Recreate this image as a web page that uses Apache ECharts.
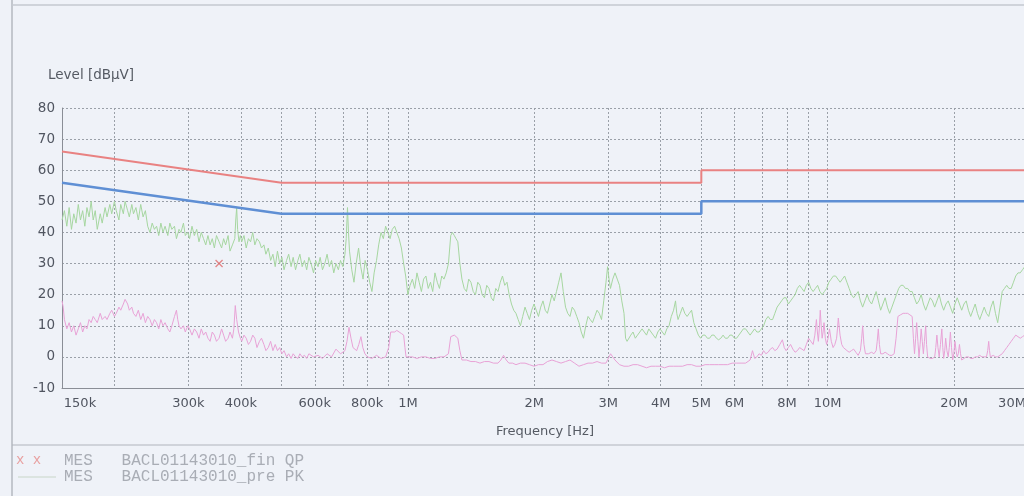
<!DOCTYPE html>
<html>
<head>
<meta charset="utf-8">
<script src="https://cdn.jsdelivr.net/npm/echarts@6/dist/echarts.min.js"></script>
<style>
html,body{margin:0;padding:0;background:#eff2f8;}
#chart{width:1024px;height:496px;}
</style>
</head>
<body>
<div id="chart"></div>
<script>
// Frequencies in kHz
const gridFreqs = [200,300,400,500,600,700,800,900,1000,2000,3000,4000,5000,6000,7000,8000,9000,10000,20000];
const labelFreqs = [150,300,400,600,800,1000,2000,3000,4000,5000,6000,8000,10000,20000,30000];

// Limit lines [kHz, dBµV]
const limitQP = [[150,66],[500,56],[5000,56],[5000,60],[30000,60]];
const limitAV = [[150,56],[500,46],[5000,46],[5000,50],[30000,50]];

// Final QP measurement
const finQP = [[355,30]];

// Pre-scan peak trace (green)
const prePK = [
[150,44],[152,47],[154,42],[156,48],[158,41],[160,46],[162,43],[164,49],[166,44],[168,47],[170,42],[172,48],[174,45],[176,50],[178,44],[180,47],[182,41],[185,46],[187,43],[190,48],[192,45],[195,49],[197,46],[200,50],[202,47],[205,44],[207,49],[210,46],[212,50],[215,47],[217,45],[220,49],[222,46],[225,48],[228,44],[231,49],[234,45],[237,47],[240,42],
[243,40],[246,43],[249,41],[252,42],[255,39],[258,43],[261,40],[264,42],[268,39],[271,43],[274,41],[278,42],[281,38],[285,41],[288,40],[292,43],[295,39],[299,40],
[302,38],[306,42],[310,39],[314,41],[318,37],[322,40],[326,38],[330,36],[334,39],[338,36],[342,38],[346,35],[350,39],[355,37],[360,35],[364,38],[368,36],[373,39],[377,34],[382,36],[387,38],[389,44],[391,48],[393,41],[396,37],[399,39],
[402,37],[407,39],[412,35],[417,38],[422,37],[427,40],[432,36],[437,38],[443,37],[448,35],[454,36],[459,33],[465,35],[471,31],[477,33],[483,29],[489,34],[495,30],[501,32],[507,28],[514,31],[520,33],[527,29],[533,32],[540,28],[547,31],[553,33],[560,29],[567,31],[574,28],[581,32],[588,30],
[596,27],[603,31],[611,29],[618,32],[626,28],[634,30],[642,33],[650,29],[658,31],[666,27],[674,30],[683,28],[691,31],[700,29],[708,33],[713,38],[718,48],[722,40],[726,34],[735,28],[744,24],[753,30],[763,35],[772,29],[782,25],[791,31],[801,28],[811,24],[821,21],[831,27],[842,31],[852,36],[863,40],[874,38],[885,42],[896,40],[907,38],[918,41],[930,42],[941,40],[953,38],[965,35],[977,30],[988,26],[1000,20],
[1012,23],[1025,25],[1038,22],[1051,27],[1064,24],[1077,21],[1090,25],[1104,26],[1118,22],[1132,24],[1146,21],[1160,27],[1175,24],[1189,22],[1204,26],[1219,25],[1234,27],[1249,30],[1265,39],[1277,40],[1290,39],[1302,38],[1315,37],[1330,30],[1345,25],
[1362,22],[1379,21],[1396,25],[1413,24],[1431,21],[1449,20],[1467,24],[1485,23],[1503,20],[1522,19],[1541,23],[1560,22],[1580,19],[1599,18],[1619,22],[1639,21],[1660,24],[1680,26],[1701,23],[1722,24],[1743,20],[1765,17],[1787,15],[1809,14],[1831,12],[1854,10],[1877,13],[1901,16],[1924,14],[1948,12],[1972,15],[1997,17],[2022,15],[2047,13],[2072,16],[2098,18],[2124,15],[2150,14],[2177,17],[2204,20],
[2231,18],[2259,21],[2287,24],[2316,27],[2345,21],[2374,16],[2403,14],[2433,13],[2463,16],[2494,15],[2525,13],[2556,11],[2588,8],[2620,6],[2653,10],[2686,13],[2719,12],[2753,11],[2787,13],[2822,15],[2857,14],[2892,12],[2928,18],[2964,24],[2990,29],[3014,25],[3038,22],[3076,25],[3114,27],[3153,25],[3192,23],[3232,18],[3272,14],[3300,6],[3327,5],[3354,5],[3396,7],[3438,8],[3481,6],[3524,7],[3568,8],[3612,9],[3657,8],[3702,7],[3748,9],[3795,8],[3842,7],[3890,6],[3938,8],[3987,9],[4037,8],[4087,7],[4138,9],[4189,10],[4241,13],[4294,15],[4340,18],[4370,14],[4401,12],[4456,14],[4511,16],[4567,14],[4624,13],[4682,14],[4740,15],[4799,11],[4858,9],[4919,7],[4980,6],
[5042,7],[5104,7],[5168,6],[5232,6],[5297,7],[5363,7],[5430,6],[5497,5.5],[5565,6],[5634,7],[5704,6],[5775,6],[5847,7],[5919,7],[5993,6],[6067,6],[6143,7],[6219,8],[6296,9],[6374,9],[6453,8],[6534,7],[6615,8],[6697,9],[6780,8],[6864,8],[6950,9],[7036,10],[7124,12],[7212,13],[7301,12],[7392,12],[7484,14],[7577,16],[7671,17],[7766,18],
[7863,19],[7960,19],[8059,17],[8159,18],[8260,19],[8363,20],[8467,22],[8572,23],[8679,22],[8787,21],[8896,23],[9006,24],[9118,22],[9232,21],[9347,22],[9462,23],[9580,21],[9699,20],[9820,21],[9941,22],[10065,24],[10190,25],[10317,26],[10445,26],[10575,25],[10706,24],[10839,25],[10973,26],[11110,24],[11248,22],[11388,20],[11529,19],[11672,20],[11817,21],[11964,18],[12113,16],[12264,18],[12416,20],[12570,18],[12726,17],[12884,19],[13044,21],[13206,18],[13370,15],[13536,17],[13705,19],[13875,16],[14047,14],[14222,16],[14399,18],[14578,20],[14758,22],[14941,23],[15127,23],[15315,22],[15506,22],[15699,21],[15893,21],[16091,19],[16291,17],[16494,18],[16698,20],[16906,17],[17115,15],[17328,17],[17543,19],[17761,18],[17982,16],[18205,18],[18432,20],[18661,17],[18892,15],[19127,17],[19365,18],[19605,16],[19849,14],[20096,17],[20345,19],[20598,17],[20854,15],[21113,17],[21375,18],[21641,15],[21909,13],[22181,15],[22457,17],[22736,14],[23019,12],[23305,14],[23594,16],[23887,14],[24184,13],[24485,16],[24789,18],[25097,14],[25409,11],[25724,16],[26044,21],[26367,22],[26695,23],[27027,22],[27362,22],[27702,24],[28046,26],[28395,27],[28747,27],[29105,28],[29466,29],[29731,30],[30000,31]
];

// Pre-scan average trace (pink)
const preAV = [
[150,18],[151,16],[152,12],[154,9],[156,11],[158,8],[160,10],[162,7],[164,9],[166,11],[168,8],[170,10],[172,9],[174,12],[176,11],[178,13],[180,12],[182,11],[185,14],[187,12],[190,13],[192,12],[195,14],[197,15],[200,13],[202,14],[205,16],[207,15],[210,17],[212,18.5],[215,17],[217,15],[220,16],[222,14],[225,13],[228,15],[231,12],[234,14],[237,11],[240,13],[243,12],[246,10],[249,12],[252,11],[255,9],[258,12],[261,10],[264,11],[268,9],[271,8],[274,10],[278,13],[281,15],[283,12],[285,10],[288,9],[292,10],[295,8],[299,10],
[302,9],[306,7],[310,9],[314,8],[318,6],[322,9],[326,7],[330,8],[334,6],[338,5],[342,8],[346,7],[350,5],[355,6],[360,9],[364,7],[368,5],[373,6],[377,8],[382,6],[385,9],[388,16.5],[391,12],[395,8],[399,6],[402,5],[407,7],[412,6],[417,4],[422,5],[427,7],[432,6],[437,3],[443,5],[448,6],[454,4],[459,2],[465,3],[471,5],[477,2],[483,4],[489,2],[495,3],[501,1],[507,2],[514,0],[520,1],[527,-0.5],[533,1],[540,0],[547,-0.5],[553,1],[560,0],[567,0.5],[574,-0.5],[581,1],
[596,0],[611,0.5],[626,-0.5],[642,1],[658,0],[674,2.5],[691,1],[708,2],[716,5],[724,9.5],[732,6],[740,3],[755,2],[764,4],[773,6.5],[781,3],[790,1],[801,0],[821,-0.5],[842,0.5],[863,-0.5],[885,0],[900,3],[910,8],[920,8.5],[930,8],[941,8.5],[953,8],[965,7.5],[977,7],[984,3],[990,0],[1000,-0.5],
[1025,0],[1051,-0.5],[1077,0],[1104,0],[1132,-0.5],[1160,-0.5],[1189,0],[1219,0],[1249,1],[1265,6.5],[1277,7],[1290,7],[1302,6.5],[1315,6],[1330,2],[1345,-1],[1379,-1],[1413,-1.5],[1449,-1.5],[1485,-2],[1522,-1.5],[1560,-1.5],[1599,-2],[1639,-2],[1665,-1],[1690,0.5],[1715,-1],[1740,-2],[1775,-2],[1809,-2.5],[1854,-2],[1901,-2],[1948,-2.5],[1997,-3],[2047,-2.5],[2098,-2.5],[2150,-1.5],[2204,-1],[2259,-1.5],[2316,-2],[2374,-1.5],[2433,-1],[2494,-2],[2556,-3],[2620,-2.5],[2686,-2],[2753,-2],[2822,-1.5],[2892,-2],[2964,-2],[3040,1],[3076,0],[3114,-1],[3192,-2.5],[3272,-3],[3354,-3],[3438,-2.5],[3524,-2.5],[3612,-3],[3702,-3.5],[3795,-3],[3890,-3],[3987,-3],[4087,-3.5],[4189,-3],[4294,-3],[4401,-3],[4511,-3],[4624,-2.5],[4740,-2.5],[4858,-3],[4980,-3],
[5104,-2.5],[5232,-2.5],[5363,-2.5],[5497,-2.5],[5634,-2.5],[5775,-2.5],[5919,-2],[6067,-2],[6219,-2],[6374,-2],[6534,-1],[6620,2],[6700,-0.5],[6780,0],[6864,1],[6950,0.5],[7036,2],[7124,1],[7212,1.5],[7301,2.5],[7392,3],[7484,2],[7577,2.5],[7690,4],[7800,5.5],[7880,3],[7960,2],[8059,3],[8159,4],[8260,2.5],[8363,1.5],[8467,2],[8572,3],[8679,2.5],[8787,2],[8896,4],[9006,6],[9118,5],[9232,4],[9320,7],[9400,12],[9450,8],[9500,5],[9550,9],[9600,15],[9650,10],[9700,6],[9750,8],[9800,11],[9870,6],[9941,4],[10020,6],[10100,9],[10200,5],[10300,3],[10400,4],[10500,6],[10550,9],[10600,12.5],[10700,7],[10800,4],[10900,3],[11000,2.5],[11120,2],[11248,1.5],[11388,2],[11529,2.5],[11672,1.5],[11817,0.5],[11964,2],[12050,6],[12113,10],[12200,4],[12300,1],[12500,1],[12726,1.5],[12884,1],[13044,2],[13120,5],[13200,9],[13280,4],[13370,1],[13536,1],[13705,1.5],[13875,1],[14047,0.5],[14222,0.5],[14399,1],[14550,6],[14700,13],[14900,13.5],[15127,14],[15315,14],[15506,14],[15699,13.5],[15893,13],[16000,6],[16100,1],[16200,6],[16291,11],[16400,5],[16500,0],[16600,4],[16698,9],[16800,5],[16900,1],[17000,5],[17115,10],[17200,4],[17300,0],[17420,-0.5],[17543,-0.5],[17761,-0.5],[17982,0],[18090,3],[18200,7],[18310,3],[18432,0],[18560,4],[18700,9],[18800,3],[18892,-0.5],[19000,2],[19100,6],[19230,2],[19365,0],[19480,3],[19600,8],[19720,3],[19849,-1],[19970,1],[20100,5],[20220,2],[20345,0],[20470,1],[20600,4],[20720,1],[20854,-1],[21113,-0.5],[21375,0],[21641,0],[21909,-0.5],[22181,-0.5],[22457,0],[22736,0],[23019,0.5],[23305,0],[23594,0],[23887,0],[24050,2],[24184,5],[24290,2],[24400,0],[24600,0],[24789,0.5],[25097,0],[25409,0],[25724,0.5],[26044,1],[26367,2],[26695,3],[27027,4],[27362,5],[27702,6],[28046,7],[28395,6.5],[28747,6],[29105,6.5],[29466,7],[29731,6.5],[30000,6]
];

const yMin = -10, yMax = 80, yStep = 10;

function fmtFreq(v){
  v = Math.round(v);
  return v >= 1000 ? (v/1000) + 'M' : v + 'k';
}

const chart = echarts.init(document.getElementById('chart'), null, {renderer:'canvas'});
const font = 'DejaVu Sans';
const option = {
  backgroundColor: '#eff2f8',
  animation: false,
  grid: {left: 62, right: -4, top: 108, bottom: 108, show: false, containLabel: false, outerBoundsMode: 'none'},
  xAxis: {
    type: 'log', logBase: 10, min: 150, max: 30000,
    axisLine: {show: true, onZero: false, lineStyle: {color: '#8a8e96', width: 1}},
    axisTick: {show: false, customValues: gridFreqs},
    minorTick: {show: false},
    axisLabel: {
      customValues: labelFreqs,
      color: '#505560', fontSize: 13, fontFamily: font, margin: 9,
      formatter: function(v){
        const s = fmtFreq(v);
        if (Math.round(v) === 150) return '{l|' + s + '}';
        if (Math.round(v) === 30000) return '{r|' + s + '}';
        return s;
      },
      rich: {
        l: {color:'#505560', fontSize:13, fontFamily: font, padding:[0,0,0,36]},
        r: {color:'#505560', fontSize:13, fontFamily: font, padding:[0,32,0,0]}
      }
    },
    splitLine: {show: true, lineStyle: {color: '#9aa0a8', type: [2,2], width: 1}},
    name: 'Frequency [Hz]', nameLocation: 'middle', nameGap: 37,
    nameTextStyle: {color: '#555a63', fontSize: 13, fontFamily: font}
  },
  yAxis: {
    type: 'value', min: yMin, max: yMax, interval: yStep,
    axisLine: {show: true, lineStyle: {color: '#8a8e96', width: 1}},
    axisTick: {show: false},
    axisLabel: {color: '#505560', fontSize: 13.5, fontFamily: font, margin: 7},
    splitLine: {show: true, lineStyle: {color: '#9aa0a8', type: [2,2], width: 1}}
  },
  graphic: [
    {type:'line', shape:{x1:12,y1:0,x2:12,y2:496}, style:{stroke:'#b4b8c0', lineWidth:1.5}, silent:true},
    {type:'line', shape:{x1:12,y1:5,x2:1024,y2:5}, style:{stroke:'#c4c8d0', lineWidth:1.5}, silent:true},
    {type:'line', shape:{x1:12,y1:445,x2:1024,y2:445}, style:{stroke:'#b0b4bc', lineWidth:1}, silent:true},
    {type:'text', left: 48, top: 68, style:{text:'Level [dBµV]', fill:'#555a63', font:'13.5px "DejaVu Sans"'}, silent:true},
    {type:'text', left: 16, top: 453, style:{text:'x x', fill:'#e8a0a0', font:'14px "Liberation Mono"'}, silent:true},
    {type:'text', left: 64, top: 453, style:{text:'MES   BACL01143010_fin QP', fill:'#a9adb5', font:'16px "Liberation Mono"'}, silent:true},
    {type:'line', shape:{x1:18,y1:477,x2:56,y2:477}, style:{stroke:'#c8d6c8', lineWidth:1}, silent:true},
    {type:'text', left: 64, top: 469, style:{text:'MES   BACL01143010_pre PK', fill:'#a9adb5', font:'16px "Liberation Mono"'}, silent:true}
  ],
  series: [
    {name:'pre PK', type:'line', data: prePK, symbol:'none', lineStyle:{color:'#a6d6a0', width:1}, z:2},
    {name:'pre AV', type:'line', data: preAV, symbol:'none', lineStyle:{color:'#e8a2d6', width:1}, z:2},
    {name:'QP limit', type:'line', data: limitQP, symbol:'none', lineStyle:{color:'#e98282', width:2}, z:3},
    {name:'AV limit', type:'line', data: limitAV, symbol:'none', lineStyle:{color:'#5f8fd4', width:2.5}, z:3},
    {name:'fin QP', type:'scatter', data: finQP, symbol:'path://M0,0L10,10M10,0L0,10', symbolSize:7,
      itemStyle:{color:'none', borderColor:'#e06a6a', borderWidth:1.3}, z:4}
  ]
};
chart.setOption(option);
</script>
</body>
</html>
